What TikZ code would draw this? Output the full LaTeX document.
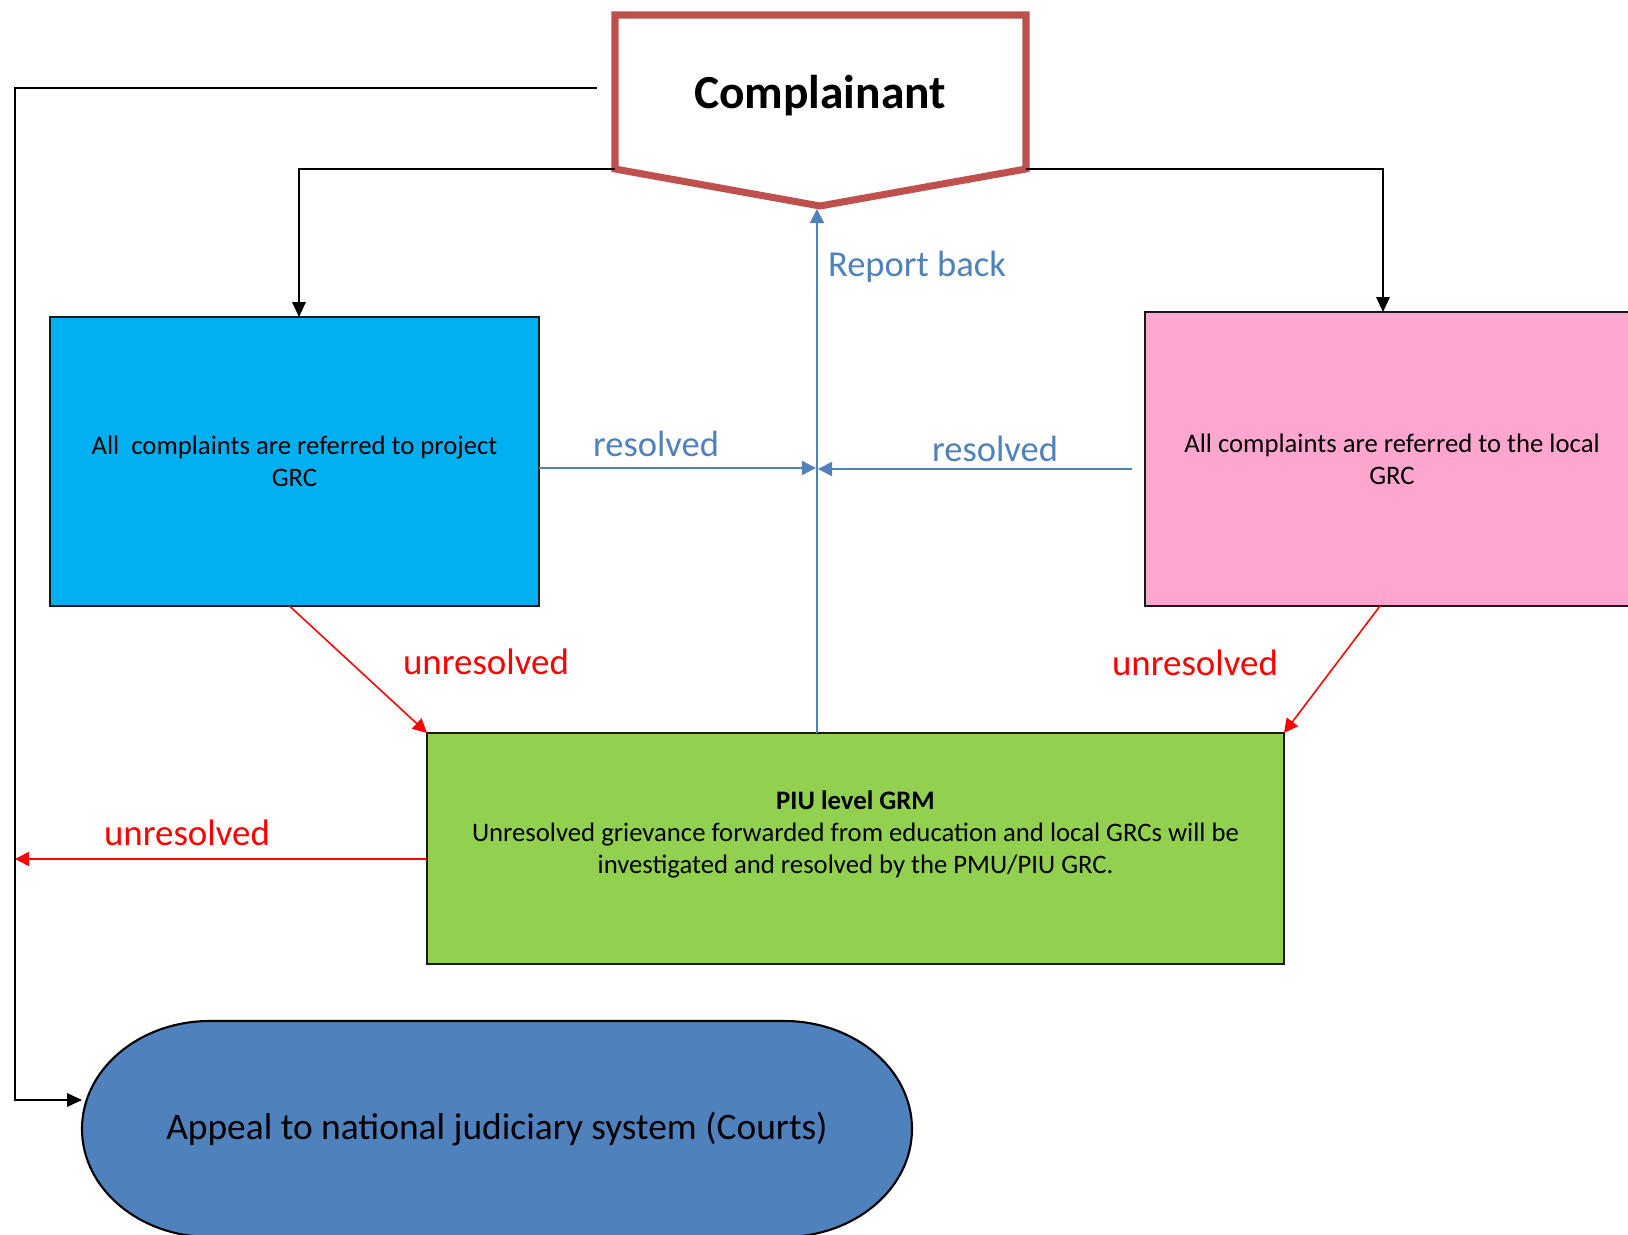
\documentclass[tikz,border=0pt]{standalone}
\usepackage{fontspec}
\setmainfont{Carlito}
\usepackage{xcolor}
\definecolor{Col1}{RGB}{192,80,77}
\definecolor{Col2}{RGB}{0,176,240}
\definecolor{Col3}{RGB}{255,166,208}
\definecolor{Col4}{RGB}{146,208,80}
\definecolor{Col5}{RGB}{79,129,189}
\definecolor{Col6}{RGB}{255,0,0}
\usepackage{tikz}
\usetikzlibrary{arrows.meta}
\tikzstyle{Box}=[draw=black!90,line width=0.8pt,inner sep=0pt,outer sep=0pt,
align=center,font=\fontsize{7.6}{9.1}\selectfont]
\tikzstyle{Edge}=[draw=black,line width=0.45pt,
-{Triangle[length=4.2pt,width=3.8pt]}]
\tikzstyle{EdgeRes}=[draw=Col5,line width=0.45pt,
-{Triangle[length=4pt,width=4pt]}]
\tikzstyle{EdgeUnres}=[draw=Col6,line width=0.45pt,
-{Triangle[length=4pt,width=4pt]}]
\tikzstyle{NodeRes}=[text=Col5,font=\fontsize{10.4}{12}\selectfont]
\tikzstyle{NodeUnres}=[text=Col6,font=\fontsize{10.5}{12}\selectfont]

\begin{document}
\begin{tikzpicture}[x=0.1mm,y=0.1mm]
    \useasboundingbox (0,0) rectangle (1628,-1235);
    \fill[white] (0,0) rectangle (1628,-1235);
    \draw[Col1,line width=2pt,fill=white] (615,-15) -- (1026,-15)
        -- (1026,-169) -- (820,-206) -- (615,-169) -- cycle;
    \node[font=\fontsize{13.5}{15}\selectfont\bfseries](comp)at(820,-96)
        {Complainant};
    \coordinate(compL)at(615,-169);
    \coordinate(compR)at(1026,-169);
    \coordinate(tip)at(817,-209);
    \coordinate(back)at(597,-88);
    \node[Box,fill=Col2,minimum width=48.9mm,minimum height=28.9mm](proj)
        at(294.5,-461.5){All~ complaints are referred to project\\GRC};
    \node[Box,fill=Col3,minimum width=49.4mm,minimum height=29.4mm](local)
        at(1392,-459){All complaints are referred to the local\\GRC};
    \node[Box,fill=Col4,minimum width=85.7mm,minimum height=23.1mm](piu)
        at(855.5,-848.5){\textbf{PIU level GRM}\\Unresolved grievance
        forwarded from education and local GRCs will be\\investigated
        and resolved by the PMU/PIU GRC.\\\mbox{}};
    \fill[Col5,draw=black,line width=0.6pt] (210,-1021) -- (784,-1021)
        arc[start angle=90,end angle=-90,x radius=128,y radius=108]
        -- (210,-1237)
        arc[start angle=270,end angle=90,x radius=128,y radius=108]
        -- cycle;
    \node[minimum width=83mm,minimum height=21.6mm,inner sep=0pt,
        outer sep=0pt,font=\fontsize{10.65}{12}\selectfont](court)
        at(497,-1129){Appeal to national judiciary system (Courts)};
    \coordinate(hubL)at(816,-468);
    \coordinate(hubR)at(818,-469);
    \coordinate(resR)at(1132,-469);
    \coordinate(appeal)at(15,-859);
    \draw[Edge](compL) -| ([xshift=0.45mm]proj.north);
    \draw[Edge](compR) -| ([xshift=-0.9mm]local.north);
    \draw[Edge](back) -- (15,-88) |- ([yshift=2.9mm]court.west);
    \draw[EdgeRes]([xshift=-3.85mm]piu.north) -- (tip);
    \draw[EdgeRes]([yshift=-0.65mm]proj.east) -- (hubL);
    \draw[EdgeRes](resR) -- (hubR);
    \draw[EdgeUnres]([xshift=-0.5mm]proj.south) -- (piu.north west);
    \draw[EdgeUnres]([xshift=-1.2mm]local.south) -- (piu.north east);
    \draw[EdgeUnres]([yshift=-1.05mm]piu.west) -- (appeal);
    \node[NodeRes](l1)at(917,-267){Report back};
    \node[NodeRes](l2)at(656,-444){resolved};
    \node[NodeRes](l3)at(995,-449){resolved};
    \node[NodeUnres](l4)at(486,-662){unresolved};
    \node[NodeUnres](l5)at(1195,-663){unresolved};
    \node[NodeUnres](l6)at(187,-833){unresolved};
\end{tikzpicture}
\end{document}
